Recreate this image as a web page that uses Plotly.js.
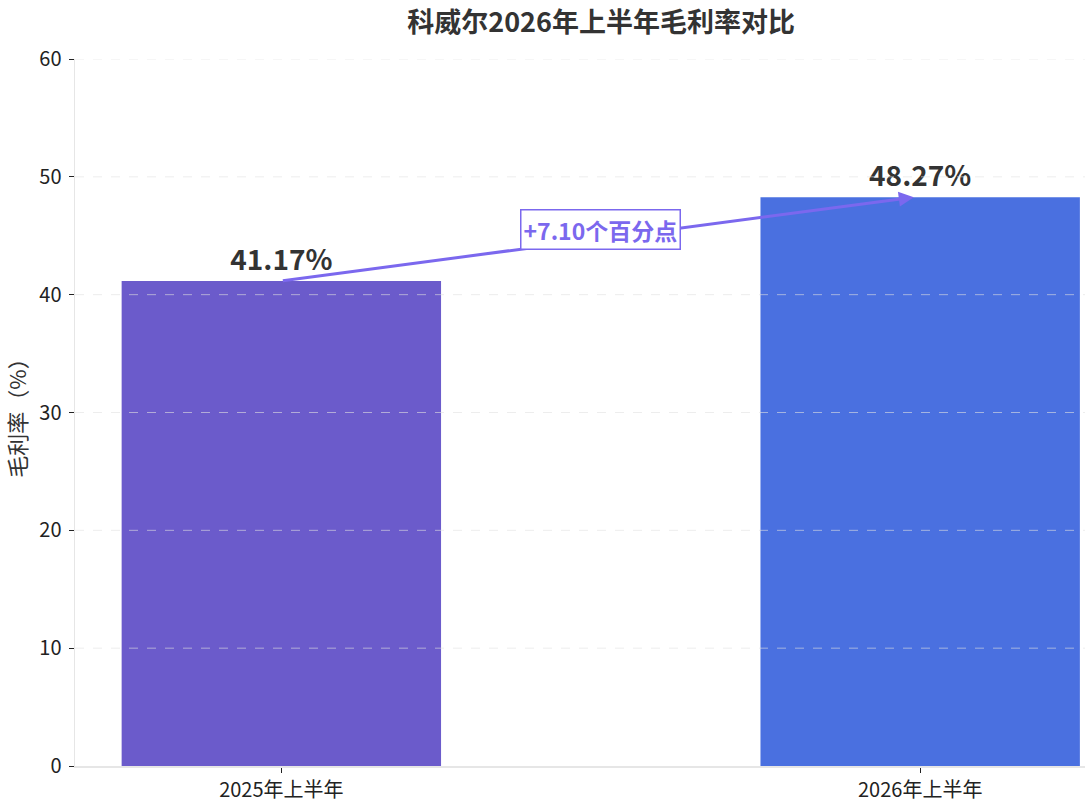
<!DOCTYPE html>
<html>
<head>
<meta charset="utf-8">
<script src="https://cdn.plot.ly/plotly-3.0.1.min.js"></script>
<style>
  html, body { margin: 0; padding: 0; background: #fff; }
  #myDiv { width: 1087px; height: 809px; }
</style>
</head>
<body>
<div id="myDiv"></div>
<script>
// data
var periods = ["2025年上半年", "2026年上半年"];
var grossMargin = [41.17, 48.27];
var barColors = ["#6B5BCB", "#4A70E0"];
var yTicks = [0, 10, 20, 30, 40, 50, 60];
var changeText = "+7.10个百分点";

var font = "'Noto Sans CJK SC', 'Noto Sans', sans-serif";
var accent = "#7B68EE";

var trace = {
  type: "bar",
  x: periods,
  y: grossMargin,
  width: 0.5,
  marker: {color: barColors, line: {width: 0}},
  text: grossMargin.map(function (v) { return "<b>" + v.toFixed(2) + "%</b>"; }),
  textposition: "outside",
  textfont: {size: 28, color: "#333333", family: font},
  cliponaxis: false,
  hoverinfo: "x+y"
};

// dashed grid drawn over the bars
var gridShapes = yTicks.filter(function (t) { return t > 0; }).map(function (t) {
  return {
    type: "line", xref: "paper", yref: "y", x0: 0, x1: 1, y0: t, y1: t,
    layer: "above",
    line: {color: "rgba(225,225,225,0.6)", width: 1, dash: "dash"}
  };
});

var layout = {
  width: 1087,
  height: 809,
  paper_bgcolor: "#ffffff",
  plot_bgcolor: "#ffffff",
  font: {family: font, color: "#222222"},
  margin: {l: 75, r: 2, t: 59, b: 43},
  showlegend: false,
  bargap: 0.5,
  title: {
    text: "<b>科威尔2026年上半年毛利率对比</b>",
    font: {size: 27, color: "#333333", family: font},
    x: 0.553, xanchor: "center",
    y: 0.972, yanchor: "middle", yref: "container"
  },
  xaxis: {
    type: "category",
    range: [-0.323, 1.258],
    showgrid: false,
    showline: true,
    linecolor: "#e6e6e6",
    linewidth: 1.5,
    ticks: "outside",
    ticklen: 5,
    tickcolor: "#222222",
    tickfont: {size: 20, color: "#222222", family: font},
    zeroline: false
  },
  yaxis: {
    range: [0, 60],
    tickvals: yTicks,
    showgrid: false,
    zeroline: false,
    showline: true,
    linecolor: "#e6e6e6",
    linewidth: 1.5,
    ticks: "outside",
    ticklen: 5,
    tickcolor: "#222222",
    ticklabelstandoff: 3,
    tickfont: {size: 20, color: "#222222", family: font},
    title: {
      text: "毛利率（%）",
      font: {size: 22, color: "#333333", family: font},
      standoff: 18
    }
  },
  shapes: gridShapes,
  annotations: [
    {
      x: 0.99, y: grossMargin[1],
      ax: 0, ay: grossMargin[0],
      xref: "x", yref: "y", axref: "x", ayref: "y",
      text: "",
      showarrow: true,
      arrowhead: 2,
      arrowsize: 1,
      arrowwidth: 3,
      arrowcolor: accent,
      standoff: 0,
      startstandoff: 0
    },
    {
      x: 0.5, y: (grossMargin[0] + grossMargin[1]) / 2,
      xref: "x", yref: "y",
      yshift: 10,
      text: "<b>" + changeText + "</b>",
      showarrow: false,
      font: {size: 23, color: accent, family: font},
      bgcolor: "#ffffff",
      bordercolor: accent,
      borderwidth: 1.5,
      borderpad: 2
    }
  ]
};

Plotly.newPlot("myDiv", [trace], layout, {displayModeBar: false, staticPlot: true});
</script>
</body>
</html>
